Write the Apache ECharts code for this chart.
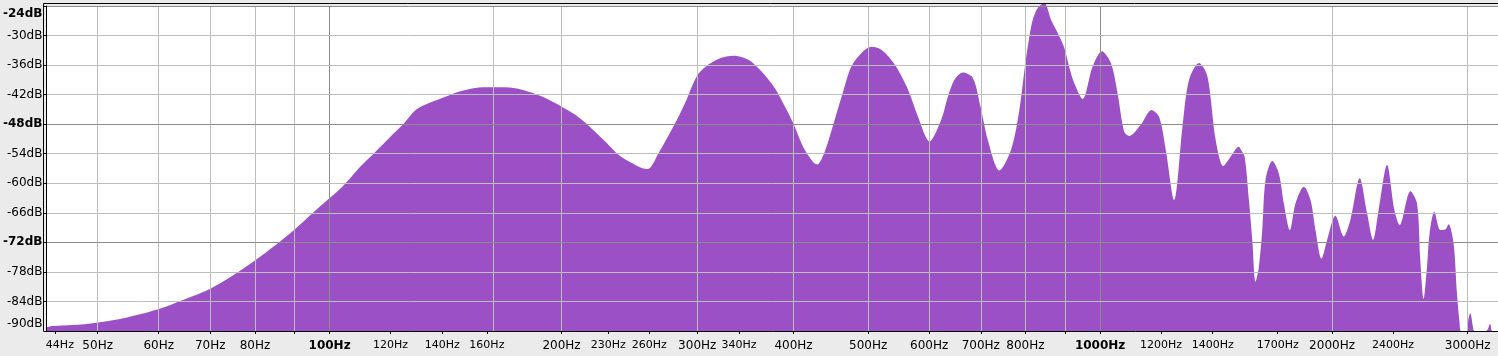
<!DOCTYPE html>
<html>
<head>
<meta charset="utf-8">
<script src="https://cdn.jsdelivr.net/npm/echarts@6/dist/echarts.min.js"></script>
<style>
html,body{margin:0;padding:0;background:#ebebeb;}
#chart{width:1498px;height:356px;}
</style>
</head>
<body>
<div id="chart"></div>
<script>
// Spectrum envelope: frequency (Hz) and level (dB)
const freqHz = [42.9, 43.7, 46.4, 49.8, 54.4, 59.9, 64.5, 70.0, 74.8, 80.0, 85.2, 89.9, 95.0, 100, 103.9,
  109.2, 114.7, 120.0, 124.9, 129.3, 134.6, 140.0, 145.7, 151.6, 157.7, 169.1, 177.7, 188.7, 199.8, 208.4,
  216.8, 227.9, 237.1, 246.7, 254.2, 258.8, 267.2, 280.8, 289.3, 299.8, 310.2, 322.7, 334.2, 349.5, 363.6,
  378.4, 389.8, 399.7, 413.7, 429.3, 439.1, 452.4, 463.9, 475.5, 489.9, 504.8, 520.1, 541.2, 563.3, 580.3,
  600.7, 622.0, 634.6, 647.1, 663.6, 683.7, 699.4, 715.0, 740.1, 766.4, 785.6, 799.8, 809.5, 817.7, 829.9,
  846.5, 863.5, 881.0, 898.5, 912.0, 925.8, 949.1, 977.9, 1005.4, 1032.7, 1053.6, 1074.5, 1090.6, 1129.3,
  1166.0, 1192.8, 1216.8, 1247.4,
  1279.1, 1304.4, 1344.0, 1378.1, 1412.5, 1445.4, 1477.0, 1514.1, 1521.8, 1540.1, 1560.0, 1575.9, 1591.3,
  1607.1, 1623.4, 1639.6, 1672.8, 1705.9, 1731.7, 1763.1, 1793.0, 1838.1, 1875.3, 1903.2, 1937.7, 1971.0,
  2020.3, 2071.1, 2113.0, 2172.2, 2220.8, 2261.0, 2298.9, 2357.3, 2409.4, 2447.6, 2527.2, 2578.2, 2603.5,
  2629.4, 2656.2, 2677.1, 2715.0, 2764.2, 2805.2, 2833.1, 2875.8, 2905.1, 2928.0, 2940.2, 2998.4, 3004.6,
  3022.6, 3052.7, 3063, 3170, 3208, 3227, 3284];
const levelDb = [-89.3, -89.0, -88.8, -88.3, -87.3, -85.6, -83.7, -81.4, -78.8, -75.7, -72.5, -69.5, -66.1, -63.0, -60.7,
  -56.9, -53.6, -50.5, -47.8, -45.1, -43.7, -42.7, -41.6, -40.9, -40.5, -40.5, -41.0, -42.4, -44.4, -46.1,
  -48.3, -51.5, -54.2, -55.9, -56.9, -57.1, -53.9, -47.8, -43.7, -38.2, -35.9, -34.5, -34.1, -34.9, -37.3,
  -40.7, -44.4, -47.8, -53.2, -56.2, -53.6, -47.1, -41.4, -36.3, -33.6, -32.3, -32.9, -35.9, -41.0, -46.5,
  -51.5, -47.1, -42.4, -39.0, -37.5, -38.6, -44.4, -51.2, -57.4, -53.2, -45.1, -35.6, -30.2, -26.8, -24.4,
  -23.4, -26.8, -29.5, -32.5, -36.5, -39.7, -42.9, -36.3, -33.2, -35.6, -41.7, -49.5, -50.4, -48.1,
  -45.1, -46.5, -53.2, -63.4,
  -48.5, -39.0, -35.6, -38.3, -51.2, -56.5, -54.6, -52.6, -53.1, -54.6, -63.4, -71.5, -80.0,
  -77.0, -69.5, -59.3, -55.5, -58.0, -64.1, -69.5, -64.1, -60.7, -63.4, -69.5, -75.3, -71.5,
  -66.6, -70.8, -67.4, -59.0, -66.1, -71.5, -65.4, -56.3, -65.4, -68.5, -61.6, -64.1, -75.6,
  -83.5, -77.0, -70.2, -65.8, -69.5, -69.4, -68.3, -72.2, -82.4, -88.5, -90, -90, -87.8,
  -86.4, -89.8, -90, -90, -88.6, -90, -90];

// Axis ticks and labels
const xTickHz = [44, 50, 60, 70, 80, 90, 100, 120, 140, 160, 200, 230, 260, 300, 340, 400, 500, 600, 700, 800, 900,
  1000, 1200, 1400, 1700, 2000, 2400, 3000];
const xLabelHz = [44, 50, 60, 70, 80, 100, 120, 140, 160, 200, 230, 260, 300, 340, 400, 500, 600, 700, 800,
  1000, 1200, 1400, 1700, 2000, 2400, 3000];
const xSmallLabelHz = [44, 120, 140, 160, 230, 260, 340, 1200, 1400, 1700, 2400];
const xBoldLabelHz = [100, 1000];
const xGridHz = [50, 60, 70, 80, 90, 163.3, 200, 300, 400, 500, 600, 700, 800, 900, 2000, 3000];
const xMajorGridHz = [100, 1000];
const yBoldDb = [-24, -48, -72];

const FONT = 'DejaVu Sans';
const xMin = 42.9, xMax = 3284;

const chart = echarts.init(document.getElementById('chart'));
chart.setOption({
  animation: false,
  backgroundColor: '#ebebeb',
  grid: { left: 43, right: 0, top: 6, bottom: 25, show: true, backgroundColor: '#ffffff', borderWidth: 0 },
  xAxis: [
    {
      type: 'log', min: xMin, max: xMax, position: 'bottom', z: 4,
      axisLine: { show: true, lineStyle: { color: '#000', width: 1 } },
      axisTick: { show: true, customValues: xTickHz, length: 3, lineStyle: { color: '#000' } },
      axisLabel: {
        show: true, customValues: xLabelHz, margin: 9, color: '#000', fontFamily: FONT,
        formatter: function (v) {
          const r = Math.round(v);
          const t = r + 'Hz';
          if (xBoldLabelHz.indexOf(r) >= 0) return '{b|' + t + '}';
          if (r === 44) return '{f|' + t + '}';
          if (xSmallLabelHz.indexOf(r) >= 0) return '{s|' + t + '}';
          return '{m|' + t + '}';
        },
        rich: {
          m: { fontSize: 12, fontFamily: FONT, color: '#000' },
          s: { fontSize: 11, fontFamily: FONT, color: '#000' },
          f: { fontSize: 11, fontFamily: FONT, color: '#000', padding: [0, 0, 0, 10] },
          b: { fontSize: 12, fontFamily: FONT, color: '#000', fontWeight: 'bold' }
        }
      },
      splitLine: { show: false }
    },
    {
      type: 'log', min: xMin, max: xMax, z: 3,
      axisLine: { show: false },
      axisTick: { show: false, customValues: xGridHz },
      axisLabel: { show: false, customValues: xGridHz },
      splitLine: { show: true, lineStyle: { color: '#bdbdbd', width: 1 } }
    },
    {
      type: 'log', min: xMin, max: xMax, z: 3,
      axisLine: { show: false },
      axisTick: { show: false, customValues: xMajorGridHz },
      axisLabel: { show: false, customValues: xMajorGridHz },
      splitLine: { show: true, lineStyle: { color: '#8c8c8c', width: 1 } }
    }
  ],
  yAxis: {
    type: 'value', min: -90, max: -24, interval: 6, z: 4,
    axisLine: { show: true, lineStyle: { color: '#000', width: 1 } },
    axisTick: { show: true, length: 3, lineStyle: { color: '#000' } },
    axisLabel: {
      margin: 4, color: '#000', fontFamily: FONT, fontSize: 12,
      formatter: function (v) {
        const t = v + 'dB';
        if (v === -24) return '{bt|' + t + '}';
        if (v === -90) return '{nb|' + t + '}';
        if (yBoldDb.indexOf(v) >= 0) return '{b|' + t + '}';
        return '{n|' + t + '}';
      },
      rich: {
        n: { fontSize: 12, fontFamily: FONT, color: '#000' },
        b: { fontSize: 12, fontFamily: FONT, color: '#000', fontWeight: 'bold' },
        bt: { fontSize: 12, fontFamily: FONT, color: '#000', fontWeight: 'bold', padding: [15, 0, 0, 0] },
        nb: { fontSize: 12, fontFamily: FONT, color: '#000', padding: [0, 0, 15, 0] }
      }
    },
    splitLine: { show: true, lineStyle: { color: ['#bdbdbd', '#bdbdbd', '#bdbdbd', '#8c8c8c'], width: 1 } }
  },
  series: [{
    type: 'line',
    xAxisIndex: 0,
    data: freqHz.map(function (f, i) { return [f, levelDb[i]]; }),
    showSymbol: false,
    smooth: 0.3,
    clip: false,
    z: 2,
    lineStyle: { width: 0 },
    areaStyle: { color: '#9b50c6', opacity: 1, origin: 'start' }
  }],
  graphic: [{
    type: 'polyline',
    shape: { points: [[43.5, 331], [43.5, 3.5], [1498, 3.5]] },
    style: { stroke: '#000', lineWidth: 1, fill: null },
    z: 10
  }]
});
</script>
</body>
</html>
